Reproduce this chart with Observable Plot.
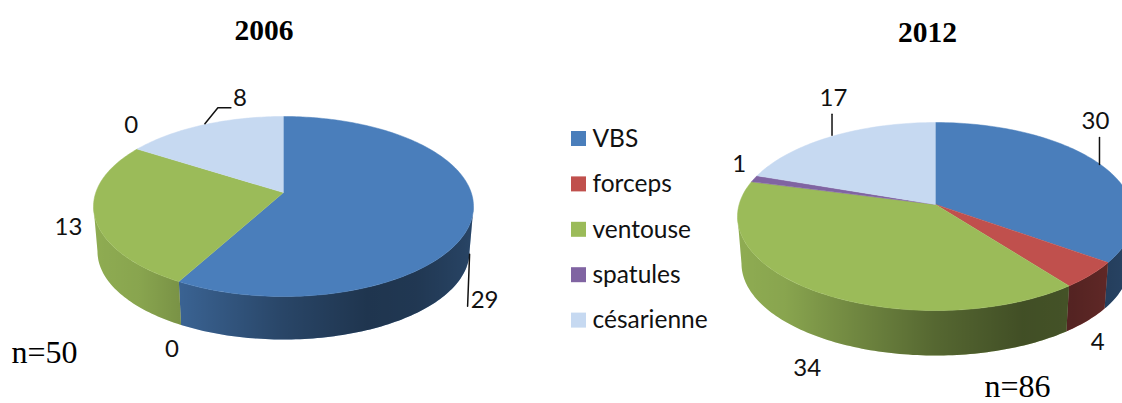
<!DOCTYPE html>
<html>
<head>
<meta charset="utf-8">
<style>
html,body{margin:0;padding:0;background:#fff;overflow:hidden}
svg{display:block}
</style>
<script src="https://cdn.jsdelivr.net/npm/d3@7"></script>
<script src="https://cdn.jsdelivr.net/npm/@observablehq/plot@0.6"></script>
</head>
<body>
<script>
// ---- data ----
const categories = ["VBS", "forceps", "ventouse", "spatules", "césarienne"];
const values2006 = [29, 0, 13, 0, 8];
const values2012 = [30, 4, 34, 1, 17];
const colors = ["#4a7ebb", "#c0504d", "#9bbb59", "#8064a2", "#c6d9f1"];
const years = ["2006", "2012"];
const counts = ["n=50", "n=86"];

// ---- layout: label offsets from the rim point of each slice ----
const labelOffsets2006 = [[12, 85], [-7, 68], [-26, 12], [-6, -24], [36, -26]];
const labelOffsets2012 = [[-5, -43], [7, 67], [-7, 78], [-15, -14], [1.5, -38]];
const leaders2006 = [[0, [[-3, 39], [-5, 91]]], [4, [[1, -1], [14, -17], [27, -17]]]];
const leaders2012 = [[0, [[-1, 0], [-1, -27]]], [4, [[0, -1], [0, -22]]]];

const pies = [
  {key: "2006", values: values2006, offsets: labelOffsets2006, leaders: leaders2006,
   top: {cx: 283, cy: 206, rx: 190, ry: 90}, bottom: {cx: 283, cy: 251, rx: 186, ry: 88}, tilt: -0.155,
   title: [263.5, 30], count: [44, 352]},
  {key: "2012", values: values2012, offsets: labelOffsets2012, leaders: leaders2012,
   top: {cx: 935, cy: 216, rx: 198, ry: 94}, bottom: {cx: 935, cy: 263, rx: 194, ry: 92}, tilt: -0.128,
   title: [927, 32], count: [1017, 386.5]}
];

// Projective disc map: rim angle -> point on the ellipse, with the apex shifted by tilt
function rim(e, tilt, a) {
  const sx = Math.sin(a), sy = -Math.cos(a), d = 1 + tilt * sy;
  return [e.cx + e.rx * sx * Math.sqrt(1 - tilt * tilt) / d, e.cy + e.ry * (sy + tilt) / d];
}
function arcAngles(a0, a1) {
  const n = Math.max(2, Math.ceil((a1 - a0) / 0.02));
  return d3.range(n + 1).map(i => a0 + (a1 - a0) * i / n);
}

const topRows = [], sideRows = [], labelRows = [], leaderRows = [];
for (const p of pies) {
  const total = d3.sum(p.values);
  let acc = 0;
  const apex = [p.top.cx, p.top.cy + p.top.ry * p.tilt];
  const frontStart = Math.acos(p.tilt), frontEnd = 2 * Math.PI - frontStart;
  p.values.forEach((v, i) => {
    const a0 = acc / total * 2 * Math.PI;
    acc += v;
    const a1 = acc / total * 2 * Math.PI;
    const id = p.key + "-" + i, category = categories[i], pie = p.key;
    const mid = rim(p.top, p.tilt, (a0 + a1) / 2);
    labelRows.push({x: mid[0] + p.offsets[i][0], y: mid[1] + p.offsets[i][1], text: String(v)});
    for (const [li, pts] of p.leaders) if (li === i)
      pts.forEach(o => leaderRows.push({id, x: mid[0] + o[0], y: mid[1] + o[1]}));
    if (v === 0) return;
    const as = arcAngles(a0, a1);
    topRows.push({id, category, x: apex[0], y: apex[1]});
    as.forEach(a => { const q = rim(p.top, p.tilt, a); topRows.push({id, category, x: q[0], y: q[1]}); });
    // the wall is only visible on the front of the pie, between the two side extremes
    const f0 = Math.max(a0, frontStart), f1 = Math.min(a1, frontEnd);
    if (f1 <= f0) return;
    const fs = arcAngles(f0, f1);
    fs.forEach(a => { const q = rim(p.top, p.tilt, a); sideRows.push({id, pie, category, x: q[0], y: q[1]}); });
    fs.slice().reverse().forEach(a => { const q = rim(p.bottom, p.tilt, a); sideRows.push({id, pie, category, x: q[0], y: q[1]}); });
  });
}
const legendRows = categories.map((c, i) => ({category: c, i}));
const legendY = i => 138.5 + i * 45.4;

function shadeDefs() {
  const defs = d3.create("svg:defs");
  const stops = [[0, .08], [.12, .12], [.23, .22], [.5, .45], [.72, .58], [.85, .56], [.97, .48], [1, .45]];
  for (const p of pies) {
    const g = defs.append("linearGradient").attr("id", "shade" + p.key)
      .attr("gradientUnits", "userSpaceOnUse")
      .attr("x1", p.top.cx - p.top.rx).attr("x2", p.top.cx + p.top.rx).attr("y1", 0).attr("y2", 0);
    for (const [o, a] of stops)
      g.append("stop").attr("offset", o).attr("stop-color", "#000").attr("stop-opacity", a);
  }
  return defs.node();
}

const sans = "Lato, 'Open Sans', sans-serif";
const serif = "'Liberation Serif', serif";

const chart = Plot.plot({
  width: 1122, height: 403,
  margin: 0,
  style: {background: "#fff"},
  x: {domain: [0, 1122], range: [0, 1122], axis: null},
  y: {domain: [0, 403], range: [0, 403], axis: null},
  color: {type: "ordinal", domain: categories, range: colors},
  marks: [
    shadeDefs,
    Plot.line(sideRows, {x: "x", y: "y", z: "id", fill: "category", stroke: "none", clip: true}),
    ...pies.map(p => Plot.line(sideRows.filter(d => d.pie === p.key),
      {x: "x", y: "y", z: "id", fill: `url(#shade${p.key})`, stroke: "none", clip: true})),
    Plot.line(topRows, {x: "x", y: "y", z: "id", fill: "category", stroke: "category", strokeWidth: 0.5, clip: true}),
    Plot.line(leaderRows, {x: "x", y: "y", z: "id", stroke: "#111", strokeWidth: 1.5}),
    Plot.text(labelRows, {x: "x", y: "y", text: "text", fontFamily: sans, fontSize: 24, fill: "#111"}),
    Plot.rect(legendRows, {
      x1: () => 571, x2: () => 586,
      y1: d => legendY(d.i) - 7.5, y2: d => legendY(d.i) + 7.5,
      fill: "category"
    }),
    Plot.text(legendRows, {
      x: () => 592, y: d => legendY(d.i), text: "category", textAnchor: "start",
      fontFamily: sans, fontSize: 24.5, fill: "#111"
    }),
    Plot.text(pies, {
      x: d => d.title[0], y: d => d.title[1], text: (d, i) => years[i],
      fontFamily: serif, fontWeight: "bold", fontSize: 29.5, fill: "#000"
    }),
    Plot.text(pies, {
      x: d => d.count[0], y: d => d.count[1], text: (d, i) => counts[i],
      fontFamily: serif, fontSize: 32, fill: "#000"
    })
  ]
});
document.body.appendChild(chart);
</script>
</body>
</html>
